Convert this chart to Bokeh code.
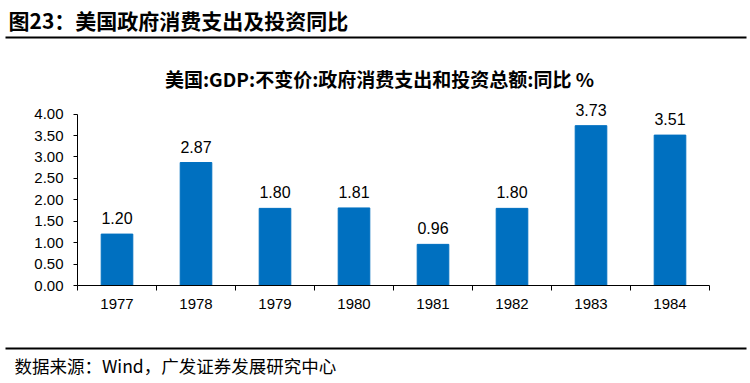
from bokeh.plotting import figure
from bokeh.layouts import column, row
from bokeh.models import (ColumnDataSource, Range1d, FixedTicker, LinearAxis,
                          PrintfTickFormatter)
from bokeh.core.properties import value
from bokeh.embed import file_html
from bokeh.resources import INLINE

years = ["1977", "1978", "1979", "1980", "1981", "1982", "1983", "1984"]
values = [1.20, 2.87, 1.80, 1.81, 0.96, 1.80, 3.73, 3.51]
y_ticks = [0.0, 0.5, 1.0, 1.5, 2.0, 2.5, 3.0, 3.5, 4.0]

title_text = "图23：美国政府消费支出及投资同比"
subtitle_text = "美国:GDP:不变价:政府消费支出和投资总额:同比 %"
source_text = "数据来源：Wind，广发证券发展研究中心"

BAR = "#0070C0"
SANS = "Liberation Sans"
CJK = "Noto Sans CJK SC"
W = 750


def blank(height):
    f = figure(width=W, height=height, output_backend="svg", toolbar_location=None,
               x_range=Range1d(0, W), y_range=Range1d(height, 0),
               x_axis_type=None, y_axis_type=None, min_border=0)
    f.title.visible = False
    f.outline_line_color = None
    f.xgrid.visible = False
    f.ygrid.visible = False
    return f


# ---- header: title, rule, chart subtitle (page y 0..95)
top = blank(95)
top.text(x=[8], y=[19], text=[title_text], text_font=value(CJK), text_font_style="bold",
         text_font_size="21px", text_baseline="middle", text_align="left", text_color="black")
top.segment(x0=[5], y0=[37], x1=[746], y1=[37], line_color="black", line_width=2)
top.text(x=[379], y=[78], text=[subtitle_text], text_font=value(CJK), text_font_style="bold",
         text_font_size="19px", text_baseline="middle", text_align="center", text_color="black")

# ---- chart (page y 95..335); frame left 77, right 709, zero at page y 285
xs = [i + 0.5 for i in range(len(years))]
src = ColumnDataSource(dict(x=xs, y=values, label=["%.2f" % v for v in values]))

H = 240
px_per_unit = 42.85
ymax = 190 / px_per_unit
p = figure(width=W, height=H, output_backend="svg", toolbar_location=None,
           x_range=Range1d(0, len(years)), y_range=Range1d(0, ymax),
           x_axis_type=None, y_axis_type=None,
           min_border_left=77, min_border_right=41, min_border_top=0,
           min_border_bottom=50)
p.title.visible = False
p.outline_line_color = None
p.xgrid.visible = False
p.ygrid.visible = False

p.vbar(x="x", top="y", width=0.4, bottom=0, source=src, color=BAR)
p.text(x="x", y="y", text="label", source=src, text_align="center",
       text_baseline="alphabetic", y_offset=-16, text_font=value(SANS),
       text_font_size="16px", text_color="black")

xaxis = LinearAxis(ticker=FixedTicker(ticks=xs, minor_ticks=list(range(len(years) + 1))),
                   major_label_overrides={x: y for x, y in zip(xs, years)})
xaxis.major_tick_line_color = None
xaxis.major_tick_in = 0
xaxis.major_tick_out = 0
xaxis.minor_tick_in = 0
xaxis.minor_tick_out = 5
xaxis.minor_tick_line_color = "black"
xaxis.axis_line_color = "black"
xaxis.major_label_standoff = 8
xaxis.major_label_text_font = SANS
xaxis.major_label_text_font_size = "15px"
xaxis.major_label_text_color = "black"
p.add_layout(xaxis, "below")

yaxis = LinearAxis(ticker=FixedTicker(ticks=y_ticks, minor_ticks=[]),
                   formatter=PrintfTickFormatter(format="%.2f"), bounds=(0, 4))
yaxis.major_tick_in = 0
yaxis.major_tick_out = 4
yaxis.major_tick_line_color = "black"
yaxis.axis_line_color = "black"
yaxis.minor_tick_line_color = None
yaxis.major_label_standoff = 10
yaxis.major_label_text_font = SANS
yaxis.major_label_text_font_size = "15px"
yaxis.major_label_text_color = "black"
p.add_layout(yaxis, "left")

# ---- footer: rule and source (page y 335..383)
bot = blank(48)
bot.segment(x0=[5], y0=[13], x1=[746], y1=[13], line_color="black", line_width=2)
bot.text(x=[14], y=[30], text=[source_text], text_font=value(CJK),
         text_font_size="17.5px", text_baseline="middle", text_align="left", text_color="black")

layout = column(row(top), row(p), row(bot), spacing=0)
open("out.html", "w").write(file_html(layout, INLINE))
